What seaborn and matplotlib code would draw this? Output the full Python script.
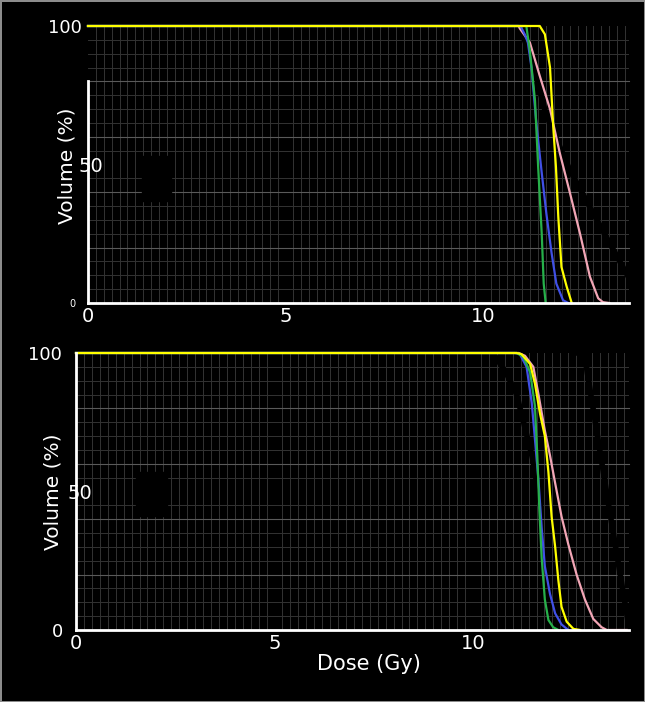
import numpy as np
import pandas as pd
import seaborn as sns
import matplotlib
matplotlib.use("Agg")
import matplotlib.pyplot as plt
from matplotlib.ticker import MultipleLocator
from matplotlib.patches import Rectangle

# ---------------- data ----------------
# upper panel
top_pink_dose = [0, 10.90, 10.94, 11.19, 11.44, 11.70, 11.95, 12.20, 12.46, 12.71, 12.92, 13.04, 13.20]
top_pink_vol = [100, 100, 99, 94, 82, 70, 54, 40, 25, 9.5, 1.7, 0.3, 0]
top_blue_dose = [0, 10.95, 11.06, 11.14, 11.23, 11.36, 11.49, 11.61, 11.74, 11.86, 12.03, 12.16]
top_blue_vol = [100, 100, 97, 94, 85, 64, 47, 32, 18, 7, 1, 0]
top_green_dose = [0, 11.10, 11.19, 11.32, 11.40, 11.49, 11.54, 11.59]
top_green_vol = [100, 100, 91, 73, 49, 25, 7, 0]
top_yellow_dose = [0, 11.44, 11.57, 11.70, 11.78, 11.85, 11.91, 11.99, 12.12, 12.25]
top_yellow_vol = [100, 100, 97, 85, 64, 49, 31, 13, 6, 0]
top_black_dose = [10.9, 11.2, 11.6, 12.2, 13.04, 13.7]
top_black_vol = [100, 90, 68, 48, 26, 9]

# lower panel
bot_pink_dose = [0, 11.15, 11.31, 11.52, 11.65, 11.81, 11.94, 12.07, 12.23, 12.40, 12.61, 12.82, 13.03, 13.24, 13.37, 13.87]
bot_pink_vol = [100, 100, 99, 95, 85, 72, 63, 53, 41, 31, 20, 11, 4, 1, 0, 0]
bot_blue_dose = [0, 11.05, 11.18, 11.35, 11.48, 11.56, 11.65, 11.73, 11.81, 11.94, 12.07, 12.23, 12.40]
bot_blue_vol = [100, 100, 99.6, 95, 82, 69, 54, 37, 23, 13, 6, 2, 0]
bot_green_dose = [0, 11.10, 11.27, 11.44, 11.56, 11.62, 11.67, 11.73, 11.81, 11.90, 12.02, 12.15]
bot_green_vol = [100, 100, 98.6, 93, 81, 63, 44, 26, 11, 3.6, 1, 0]
bot_yellow_dose = [0, 11.10, 11.22, 11.44, 11.56, 11.69, 11.81, 11.90, 11.98, 12.07, 12.15, 12.23, 12.36, 12.53, 12.70]
bot_yellow_vol = [100, 100, 99.6, 96, 89, 78, 70, 57, 41, 30, 18, 8.4, 3, 0.4, 0]
bot_blackA_dose = [10.5, 10.83, 11.1, 11.5, 11.7]
bot_blackA_vol = [100, 93, 85, 62, 45]
bot_blackB_dose = [12.6, 12.8, 13.43, 13.93]
bot_blackB_vol = [100, 100, 44, 1]

x_ticks = [0, 5, 10]
x_tick_labels = ["0", "5", "10"]
y_ticks = [0, 50, 100]
y_tick_labels = ["0", "50", "100"]
x_label = "Dose (Gy)"
y_label = "Volume (%)"

series_order = ["pink", "blue", "green", "yellow"]
palette = {"pink": "#f2a6b6", "blue": "#4050e6", "green": "#27b04a", "yellow": "#ffff00",
           "blackA": "#000000", "blackB": "#000000"}


def frame(pairs):
    rows = []
    for name, d, v in pairs:
        rows.append(pd.DataFrame({"dose": d, "vol": v, "series": name}))
    return pd.concat(rows, ignore_index=True)


top_df = frame([("pink", top_pink_dose, top_pink_vol), ("blue", top_blue_dose, top_blue_vol),
                ("green", top_green_dose, top_green_vol), ("yellow", top_yellow_dose, top_yellow_vol)])
top_black = frame([("blackA", top_black_dose, top_black_vol)])
bot_df = frame([("pink", bot_pink_dose, bot_pink_vol), ("blue", bot_blue_dose, bot_blue_vol),
                ("green", bot_green_dose, bot_green_vol), ("yellow", bot_yellow_dose, bot_yellow_vol)])
bot_black = frame([("blackA", bot_blackA_dose, bot_blackA_vol), ("blackB", bot_blackB_dose, bot_blackB_vol)])

# ---------------- figure ----------------
plt.rcParams["font.family"] = ["DejaVu Sans"]
fig = plt.figure(figsize=(6.45, 7.02), dpi=100, facecolor="black", edgecolor="#8c8c8c", linewidth=2)

ax_top = fig.add_axes([88 / 645, 1 - 303 / 702, (629 - 88) / 645, 277 / 702])
ax_bot = fig.add_axes([76 / 645, 1 - 630 / 702, (629 - 76) / 645, 277 / 702])


def style(ax, xmax, left_top, ypads, yfs, mask):
    ax.set_facecolor("black")
    ax.set_axisbelow(True)
    ax.set_xlim(0, xmax)
    ax.set_ylim(0, 100)
    ax.xaxis.set_minor_locator(MultipleLocator(0.2))
    ax.yaxis.set_minor_locator(MultipleLocator(5))
    ax.grid(which="minor", color="#333333", lw=0.7)
    ax.grid(which="major", visible=False)
    for v in (20, 40, 60, 80):
        ax.axhline(v, color="#5a5a5a", lw=0.8, zorder=0.6)
    for s in ("top", "right"):
        ax.spines[s].set_visible(False)
    for s in ("left", "bottom"):
        ax.spines[s].set_color("white")
        ax.spines[s].set_linewidth(2)
    ax.spines["left"].set_bounds(0, left_top)
    ax.add_patch(Rectangle(mask[0], mask[1], mask[2], color="black", zorder=1))
    ax.set_xticks(x_ticks, x_tick_labels)
    ax.set_yticks(y_ticks, y_tick_labels)
    ax.tick_params(which="both", length=0, colors="white")
    ax.tick_params(axis="x", labelsize=14, pad=3)
    ax.set_xlabel("")
    ax.set_ylabel(y_label, color="white", fontsize=14.5)
    ticks = ax.yaxis.get_major_ticks()
    for t, p, f in zip(ticks, ypads, yfs):
        t.label1.set_fontsize(f)
        t.set_pad(p)
    ticks[1].label1.set_horizontalalignment("left")
    for ln in ax.lines:
        ln.set_clip_on(False)


# upper panel
sns.lineplot(data=top_black, x="dose", y="vol", hue="series", palette=palette, sort=False,
             estimator=None, lw=4, legend=False, ax=ax_top)
sns.lineplot(data=top_df, x="dose", y="vol", hue="series", hue_order=series_order, palette=palette,
             sort=False, estimator=None, lw=1.6, legend=False, ax=ax_top)
style(ax_top, 13.7, 80, [9, 6.5, 4.5], [7, 14, 13], ((1.37, 37), 0.73, 16))
ax_top.yaxis.set_label_coords(-0.022, 0.495)

# lower panel
sns.lineplot(data=bot_black, x="dose", y="vol", hue="series", palette=palette, sort=False,
             estimator=None, lw=4, legend=False, ax=ax_bot)
sns.lineplot(data=bot_df, x="dose", y="vol", hue="series", hue_order=series_order, palette=palette,
             sort=False, estimator=None, lw=1.6, legend=False, ax=ax_bot)
style(ax_bot, 13.93, 100, [9, 6, 10], [13, 14, 13], ((1.51, 41), 0.78, 16))
ax_bot.yaxis.set_label_coords(-0.025, 0.5)
ax_bot.set_xlabel(x_label, color="white", fontsize=15)
ax_bot.xaxis.set_label_coords(0.53, -0.085)

fig.savefig("out.png", dpi=100)
